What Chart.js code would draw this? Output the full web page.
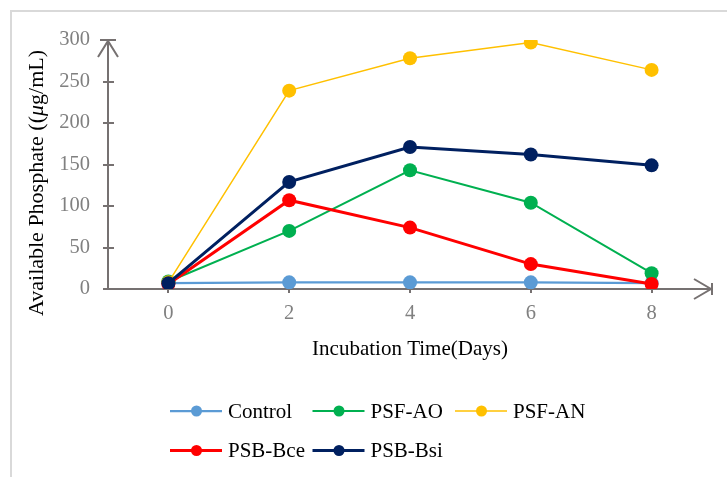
<!DOCTYPE html>
<html>
<head>
<meta charset="utf-8">
<script src="https://cdn.jsdelivr.net/npm/chart.js@4.4.0/dist/chart.umd.min.js"></script>
<style>
  html, body { margin: 0; padding: 0; background: #fff; }
  #wrap { width: 727px; height: 477px; }
</style>
</head>
<body>
<div id="wrap"><canvas id="phosChart" width="727" height="477"></canvas></div>
<script>
// data
const days = ['0', '2', '4', '6', '8'];
const control = [7, 8, 8, 8, 7];
const psfAO = [9, 70, 143, 104, 19];
const psfAN = [8, 239, 278, 297, 264];
const psbBce = [6, 107, 74, 30, 6];
const psbBsi = [7, 129, 171, 162, 149];
const yTicks = [0, 50, 100, 150, 200, 250, 300];

const FONT = "'Liberation Serif', 'Times New Roman', serif";
const AXIS = '#767171';

// frame, axis arrows and tick marks
const axisArrows = {
  id: 'axisArrows',
  beforeDraw(chart) {
    const ctx = chart.ctx;
    ctx.save();
    ctx.strokeStyle = '#d9d9d9';
    ctx.lineWidth = 2;
    ctx.beginPath();
    ctx.moveTo(11, 477);
    ctx.lineTo(11, 11);
    ctx.lineTo(727, 11);
    ctx.stroke();
    ctx.restore();
  },
  beforeDatasetsDraw(chart) {
    const { ctx, chartArea: a, scales: { x, y } } = chart;
    const x0 = a.left, y0 = y.getPixelForValue(0);
    ctx.save();
    ctx.strokeStyle = AXIS;
    ctx.lineWidth = 2;
    ctx.lineCap = 'butt';
    ctx.beginPath();
    // y axis
    ctx.moveTo(x0, y0);
    ctx.lineTo(x0, a.top);
    ctx.moveTo(x0 - 8, a.top);
    ctx.lineTo(x0 + 8, a.top);
    ctx.moveTo(x0 - 10, a.top + 17);
    ctx.lineTo(x0, a.top + 1);
    ctx.lineTo(x0 + 10, a.top + 17);
    yTicks.slice(0, -1).forEach(v => {
      const py = Math.round(y.getPixelForValue(v));
      ctx.moveTo(x0 - 5, py);
      ctx.lineTo(x0 + 6, py);
    });
    // x axis
    ctx.moveTo(x0, y0);
    ctx.lineTo(a.right, y0);
    ctx.moveTo(a.right, y0 - 6);
    ctx.lineTo(a.right, y0 + 6);
    ctx.moveTo(a.right - 18, y0 - 10);
    ctx.lineTo(a.right - 1, y0);
    ctx.lineTo(a.right - 18, y0 + 10);
    days.forEach((d, i) => {
      const px = Math.round(x.getPixelForValue(i));
      ctx.moveTo(px, y0);
      ctx.lineTo(px, y0 + 4);
    });
    ctx.stroke();
    ctx.restore();
  },
  afterDraw(chart) {
    const ctx = chart.ctx;
    ctx.save();
    ctx.fillStyle = '#000';
    ctx.font = '21px ' + FONT;
    ctx.textBaseline = 'alphabetic';
    // x title
    ctx.textAlign = 'center';
    ctx.fillText('Incubation Time(Days)', 410, 355);
    // y title, with italic mu
    const parts = [['Available Phosphate ((', '22px '], ['\u03bc', 'italic 22px '], ['g/mL)', '22px ']];
    let total = 0;
    parts.forEach(p => { ctx.font = p[1] + FONT; total += ctx.measureText(p[0]).width; });
    ctx.translate(43, 183 + total / 2);
    ctx.rotate(-Math.PI / 2);
    ctx.textAlign = 'left';
    let cx = 0;
    parts.forEach(p => {
      ctx.font = p[1] + FONT;
      ctx.fillText(p[0], cx, 0);
      cx += ctx.measureText(p[0]).width;
    });
    ctx.restore();

    // legend, laid out as a grid
    ctx.save();
    ctx.font = '21px ' + FONT;
    ctx.textAlign = 'left';
    ctx.textBaseline = 'alphabetic';
    chart.data.datasets.forEach((ds, i) => {
      const col = i % 3, row = Math.floor(i / 3);
      const lx = 170 + col * 142.5;
      const ly = 411 + row * 39.5;
      ctx.strokeStyle = ds.borderColor;
      ctx.lineWidth = ds.borderWidth;
      ctx.beginPath();
      ctx.moveTo(lx, ly);
      ctx.lineTo(lx + 52, ly);
      ctx.stroke();
      ctx.fillStyle = ds.backgroundColor;
      ctx.beginPath();
      ctx.arc(lx + 26.5, ly, 5.5, 0, Math.PI * 2);
      ctx.fill();
      ctx.fillStyle = '#000';
      ctx.fillText(ds.label, lx + 58, ly + 6.5);
    });
    ctx.restore();
  }
};

function series(label, data, color, width, order) {
  return {
    label: label,
    data: data,
    borderColor: color,
    backgroundColor: color,
    borderWidth: width,
    pointRadius: 7,
    pointHoverRadius: 7,
    pointBorderWidth: 0,
    pointBackgroundColor: color,
    tension: 0,
    order: order
  };
}

const ctx = document.getElementById('phosChart').getContext('2d');
const phosChart = new Chart(ctx, {
  type: 'line',
  data: {
    labels: days,
    datasets: [
      series('Control', control, '#5B9BD5', 2.25, 5),
      series('PSF-AO', psfAO, '#00B050', 2, 4),
      series('PSF-AN', psfAN, '#FFC000', 1.5, 3),
      series('PSB-Bce', psbBce, '#FF0000', 3, 2),
      series('PSB-Bsi', psbBsi, '#002060', 3, 1)
    ]
  },
  options: {
    responsive: false,
    animation: false,
    events: [],
    layout: { padding: { left: 0, top: 40, right: 15, bottom: 0 } },
    scales: {
      x: {
        type: 'category',
        offset: true,
        grid: { display: false, drawTicks: false },
        border: { display: false },
        ticks: { color: '#808080', font: { family: FONT, size: 20.5 }, padding: 12, maxRotation: 0 },
        afterFit(scale) { scale.height = 477 - 289; }
      },
      y: {
        min: 0,
        max: 300,
        grid: { display: false, drawTicks: false },
        border: { display: false },
        ticks: {
          stepSize: 50,
          color: '#808080',
          font: { family: FONT, size: 20.5 },
          padding: 18
        },
        afterBuildTicks(scale) { scale.ticks = yTicks.map(v => ({ value: v })); },
        afterFit(scale) { scale.width = 108; }
      }
    },
    plugins: {
      legend: { display: false },
      tooltip: { enabled: false }
    }
  },
  plugins: [axisArrows]
});
</script>
</body>
</html>
